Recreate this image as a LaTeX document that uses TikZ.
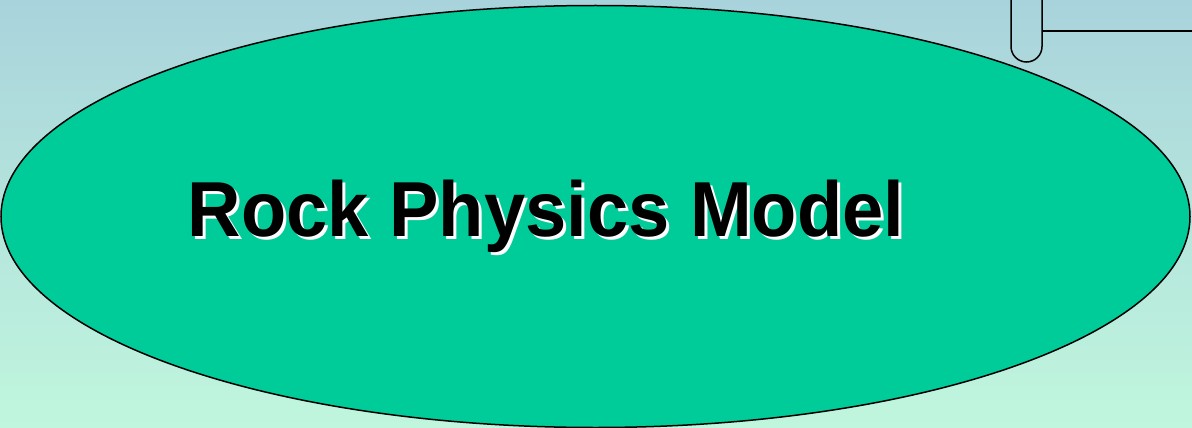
\documentclass[tikz,border=0pt]{standalone}
\usepackage{fontspec}
\setmainfont{Liberation Sans}
\usetikzlibrary{shapes.geometric}
\definecolor{bgtop}{RGB}{169,211,220}
\definecolor{bgbottom}{RGB}{192,246,221}
\definecolor{rockgreen}{RGB}{0,204,153}
\tikzset{
  titletext/.style={anchor=base, inner sep=0pt, xscale=0.95,
    font=\bfseries\fontsize{78}{90}\selectfont},
  outline/.style={draw=black, line width=1.5pt}
}
\begin{document}
\begin{tikzpicture}[x=1pt, y=-1pt]
  \useasboundingbox (0,0) rectangle (1192,428);
  \clip (0,0) rectangle (1192,428);
  \fill[top color=bgtop, bottom color=bgbottom] (0,0) rectangle (1192,428);

  % tab in the upper right corner
  \node[outline, rounded corners=15.5pt, minimum width=31pt, minimum height=120pt,
        inner sep=0pt] (tab) at (1026.5,2) {};
  \coordinate (lineend) at (1194,31);
  \draw[line width=1.5pt] (tab.east |- lineend) -- (lineend);

  % model ellipse
  \node[ellipse, outline, fill=rockgreen, minimum width=1189pt, minimum height=422pt,
        inner sep=0pt] (model) at (595.5,216.5) {};
  \node[titletext, text=white] (titleshadow) at (549,239) {Rock Physics Model};
  \node[titletext, text=black] (title) at (546,236) {Rock Physics Model};
\end{tikzpicture}
\end{document}
